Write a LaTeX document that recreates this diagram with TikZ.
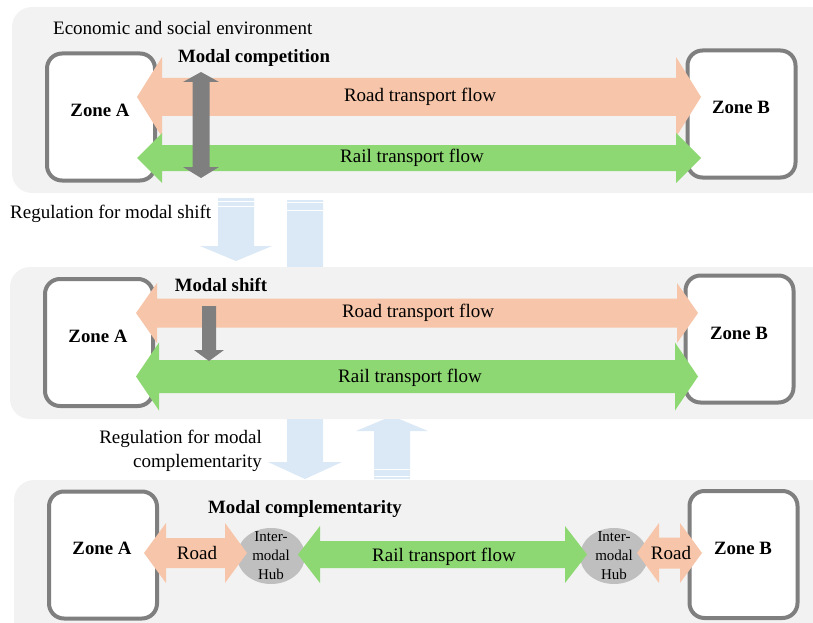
\documentclass[tikz,border=0pt]{standalone}
\usepackage{fontspec}
\setmainfont{Liberation Serif}
\usetikzlibrary{shapes.geometric}

\definecolor{panelgray}{HTML}{F2F2F2}
\definecolor{zoneborder}{HTML}{7F7F7F}
\definecolor{roadflow}{HTML}{F7C5A9}
\definecolor{railflow}{HTML}{8ED873}
\definecolor{regblue}{HTML}{DBE8F6}
\definecolor{hubgray}{HTML}{BFBFBF}
\definecolor{shiftgray}{HTML}{7F7F7F}

% fat double arrow: colour, left tip, right tip, y, shaft half, head half, head length
\newcommand{\flowarrow}[7]{%
  \fill[#1] (#2,#4) -- ({#2+#7},{#4-#6}) -- ({#2+#7},{#4-#5}) -- ({#3-#7},{#4-#5})
    -- ({#3-#7},{#4-#6}) -- (#3,#4) -- ({#3-#7},{#4+#6}) -- ({#3-#7},{#4+#5})
    -- ({#2+#7},{#4+#5}) -- ({#2+#7},{#4+#6}) -- cycle;}

\begin{document}
\begin{tikzpicture}[x=1pt,y=-1pt,
    panel/.style={fill=panelgray, rounded corners=20pt},
    zone/.style={draw=zoneborder, line width=4pt, fill=white, rounded corners=15pt,
      minimum width=108pt, minimum height=127pt, inner sep=0pt},
    zonelabel/.style={font=\fontsize{18.8}{22}\selectfont\bfseries},
    flowlabel/.style={font=\fontsize{19}{22}\selectfont, inner sep=0pt},
    hub/.style={ellipse, fill=hubgray, minimum width=68pt, minimum height=56pt,
      inner sep=0pt, align=center, font=\fontsize{15}{19}\selectfont}]
    \useasboundingbox (0,0) rectangle (813,623);
    \clip (0,0) rectangle (813,623);

    % regulation arrows
    \fill[regblue] (218,198) -- (254,198) -- (254,246) -- (272,246) -- (236,261)
      -- (200,246) -- (218,246) -- cycle;
    \draw[white, line width=1pt] (218,201.5) -- (254,201.5) (218,206.5) -- (254,206.5);
    \fill[regblue] (287,200) -- (323,200) -- (323,462) -- (342,462) -- (305,479)
      -- (268,462) -- (287,462) -- cycle;
    \draw[white, line width=1pt] (287,202.5) -- (323,202.5) (287,210) -- (323,210);
    \fill[regblue] (374,479) -- (410,479) -- (410,431) -- (428,431) -- (392,416)
      -- (356,431) -- (374,431) -- cycle;
    \draw[white, line width=1pt] (374,469) -- (410,469) (374,476) -- (410,476);

    % panels
    \fill[panel] (12,7) rectangle (830,193);
    \fill[panel] (10,267) rectangle (830,419);
    \fill[panel] (14,480) rectangle (830,650);

    \node[anchor=west, flowlabel] (envlabel) at (53,28) {Economic and social environment};
    \node[anchor=west, flowlabel] (reglabel1) at (10,214) {Regulation for modal shift};
    \node[anchor=east, flowlabel, align=right, font=\fontsize{19}{24}\selectfont] (reglabel2)
      at (262,451) {Regulation for modal\\complementarity};

    % competition
    \node[zone] (zA1) at (101,117) {};
    \node[zone] (zB1) at (741.5,114) {};
    \node[zonelabel] (zA1t) at (100,110) {Zone A};
    \node[zonelabel] (zB1t) at (741,107) {Zone B};
    \flowarrow{roadflow}{137}{701}{97}{19}{40}{25}
    \flowarrow{railflow}{137}{701}{158}{13}{25}{25}
    \fill[shiftgray] (201,72) -- (219,82) -- (209.5,82) -- (209.5,167) -- (219,167)
      -- (201,178) -- (183,167) -- (192.5,167) -- (192.5,82) -- (183,82) -- cycle;
    \node[zonelabel] (comp) at (254,58) {Modal competition};
    \node[flowlabel] (road1) at (420,97) {Road transport flow};
    \node[flowlabel] (rail1) at (412,158) {Rail transport flow};

    % shift
    \node[zone] (zA2) at (99,342.5) {};
    \node[zone] (zB2) at (739.5,339) {};
    \node[zonelabel] (zA2t) at (98,336) {Zone A};
    \node[zonelabel] (zB2t) at (739,333) {Zone B};
    \flowarrow{roadflow}{136}{698}{313}{14.5}{30}{21}
    \flowarrow{railflow}{136}{698}{376.5}{16.5}{34}{23}
    \fill[shiftgray] (202,306) -- (216,306) -- (216,350) -- (224,350) -- (209,361)
      -- (194,350) -- (202,350) -- cycle;
    \node[zonelabel] (shift) at (221,285) {Modal shift};
    \node[flowlabel] (road2) at (418,313) {Road transport flow};
    \node[flowlabel] (rail2) at (410,378) {Rail transport flow};

    % complementarity
    \node[zone] (zA3) at (103,555) {};
    \node[zone] (zB3) at (743.5,554.5) {};
    \node[zonelabel] (zA3t) at (102,548) {Zone A};
    \node[zonelabel] (zB3t) at (743,548) {Zone B};
    \node[hub] (hubL) at (271,556) {};
    \node[hub] (hubR) at (614,556) {};
    \flowarrow{roadflow}{144}{247}{553}{15}{30}{22}
    \flowarrow{railflow}{298}{587}{554.5}{13.5}{28.5}{22}
    \flowarrow{roadflow}{637}{702}{553}{15.5}{30}{22}
    \node[hub, fill=none] (hubLt) at (hubL) {Inter-\\modal\\Hub};
    \node[hub, fill=none] (hubRt) at (hubR) {Inter-\\modal\\Hub};
    \node[zonelabel] (compl) at (305,509) {Modal complementarity};
    \node[flowlabel] (roadL) at (197,553) {Road};
    \node[flowlabel] (roadR) at (671,553) {Road};
    \node[flowlabel] (rail3) at (444,557) {Rail transport flow};
\end{tikzpicture}
\end{document}
